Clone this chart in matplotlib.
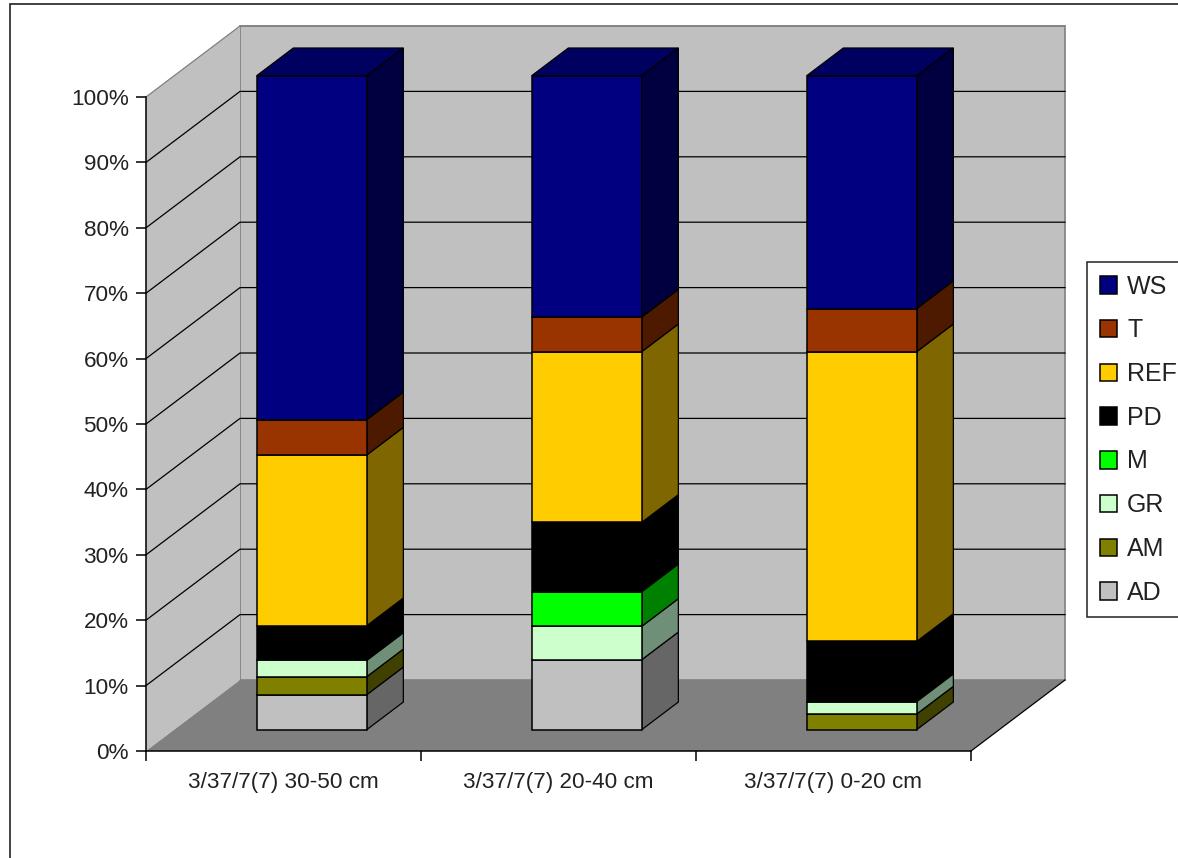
#!/usr/bin/env python
"""
Stacked 3D-look column chart, built from plain 2D patches
"""
import matplotlib
matplotlib.use('Agg')
import matplotlib.pyplot as plt
from matplotlib.patches import Patch, Rectangle

plt.rcParams['font.family'] = ['Liberation Sans', 'DejaVu Sans']

categories = ['3/37/7(7) 30-50 cm', '3/37/7(7) 20-40 cm', '3/37/7(7) 0-20 cm']
series = ['AD', 'AM', 'GR', 'M', 'PD', 'REF', 'T', 'WS']

AD = [5.35, 10.7, 0]
AM = [2.75, 0, 2.4]
GR = [2.5, 5.1, 1.9]
M = [0, 5.3, 0]
PD = [5.3, 10.6, 9.2]
REF = [26.1, 26.1, 44.3]
T = [5.4, 5.3, 6.6]
WS = [52.6, 36.9, 35.6]
values = [AD, AM, GR, M, PD, REF, T, WS]

front_colors = ['#C0C0C0', '#808000', '#CCFFCC', '#00FF00', '#000000', '#FFCC00', '#993300', '#000080']
side_colors = ['#666666', '#404000', '#6F8F78', '#008000', '#000000', '#806600', '#4D1A00', '#000040']
TOP_COLOR = '#000060'

W, H = 1178, 858
# front plane of the chart box, in pixels
LEFT, RIGHT, TOP, BOTTOM = 146, 971, 97, 751

fig = plt.figure(figsize=(W / 100, H / 100), dpi=100, facecolor='white')
ax = fig.add_axes([LEFT / W, 1 - BOTTOM / H, (RIGHT - LEFT) / W, (BOTTOM - TOP) / H])

# depth of the box expressed in data units
DX = 94 / ((RIGHT - LEFT) / 3)
DY = 71 / ((BOTTOM - TOP) / 100)
BAR_WIDTH = 0.4
BAR_D0 = 0.30
BAR_D1 = 0.69


def shift(x, y, d):
    return x + d * DX, y + d * DY


def poly(points, **kw):
    xs, ys = zip(*points)
    ax.fill(xs, ys, clip_on=False, **kw)


n = len(categories)

# walls and floor
poly([shift(0, 0, 1), shift(n, 0, 1), shift(n, 100, 1), shift(0, 100, 1)],
     facecolor='#C0C0C0', edgecolor='#808080', linewidth=1.2, zorder=1)
poly([shift(0, 0, 0), shift(0, 0, 1), shift(0, 100, 1), shift(0, 100, 0)],
     facecolor='#C0C0C0', edgecolor='none', zorder=1)
poly([shift(0, 0, 0), shift(n, 0, 0), shift(n, 0, 1), shift(0, 0, 1)],
     facecolor='#808080', edgecolor='none', zorder=1.5)

# gridlines running along the side wall and back wall
for pct in range(10, 101, 10):
    color = '#808080' if pct == 100 else 'black'
    x0, y0 = shift(0, pct, 0)
    x1, y1 = shift(0, pct, 1)
    x2, y2 = shift(n, pct, 1)
    ax.plot([x0, x1, x2], [y0, y1, y2], color=color, lw=0.9, clip_on=False, zorder=2)
x0, y0 = shift(n, 0, 0)
x1, y1 = shift(n, 0, 1)
ax.plot([x0, x1], [y0, y1], color='black', lw=0.9, clip_on=False, zorder=2)

# stacked bars
for i in range(n):
    xl = i + 0.5 - BAR_WIDTH / 2
    xr = i + 0.5 + BAR_WIDTH / 2
    base = 0
    for vals, fc, sc in zip(values, front_colors, side_colors):
        v = vals[i]
        if v == 0:
            continue
        fx, fy = shift(i + 0.5, base, BAR_D0)
        ax.bar(fx, v, BAR_WIDTH, bottom=fy, color=fc, edgecolor='black', linewidth=1.1,
               clip_on=False, zorder=4)
        poly([shift(xr, base, BAR_D0), shift(xr, base, BAR_D1),
              shift(xr, base + v, BAR_D1), shift(xr, base + v, BAR_D0)],
             facecolor=sc, edgecolor='black', linewidth=0.9, zorder=3)
        base += v
    poly([shift(xl, base, BAR_D0), shift(xr, base, BAR_D0),
          shift(xr, base, BAR_D1), shift(xl, base, BAR_D1)],
         facecolor=TOP_COLOR, edgecolor='black', linewidth=0.9, zorder=3)

ax.set_xlim(0, n)
ax.set_ylim(0, 100)
ax.patch.set_visible(False)
for name in ['top', 'right']:
    ax.spines[name].set_visible(False)
for name in ['left', 'bottom']:
    ax.spines[name].set_linewidth(1.1)
    ax.spines[name].set_zorder(2.5)

ax.set_yticks(range(0, 101, 10))
ax.set_yticklabels(['%d%%' % p for p in range(0, 101, 10)])
ax.tick_params(axis='y', length=7.5, width=1.1, pad=5, labelsize=16.2, labelcolor='#222222')
ax.set_xticks(range(n + 1))
ax.set_xticklabels([])
ax.tick_params(axis='x', which='major', length=7.5, width=1.1)
ax.set_xticks([i + 0.5 for i in range(n)], minor=True)
ax.set_xticklabels(categories, minor=True)
ax.tick_params(axis='x', which='minor', length=0, pad=15, labelsize=16.2, labelcolor='#222222')

# legend, top entry is the top of the stack
handles = [Patch(facecolor=c, edgecolor='black', linewidth=1.1) for c in front_colors[::-1]]
leg = fig.legend(handles, series[::-1], loc='upper left', bbox_to_anchor=(1087 / W, 1 - 262 / H),
                 bbox_transform=fig.transFigure, fontsize=18, labelcolor='#222222',
                 frameon=True, fancybox=False, edgecolor='#222222', framealpha=1,
                 borderaxespad=0, borderpad=0.5, labelspacing=0.79,
                 handlelength=0.7, handleheight=0.7, handletextpad=0.4)
leg.get_frame().set_linewidth(1.1)

# outer chart border, runs off the right and bottom of the image
fig.add_artist(Rectangle((10 / W, -0.1), 1.2, 1 - 4 / H + 0.1, transform=fig.transFigure,
                         facecolor='none', edgecolor='#222222', linewidth=1.2))

fig.savefig('out.png', dpi=100)
